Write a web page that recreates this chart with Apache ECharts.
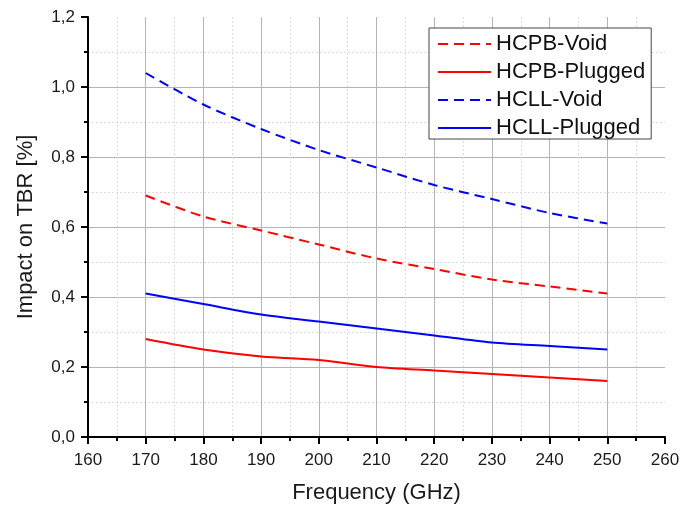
<!DOCTYPE html>
<html>
<head>
<meta charset="utf-8">
<script src="https://cdn.jsdelivr.net/npm/echarts@6/dist/echarts.min.js"></script>
<style>
  html, body { margin: 0; padding: 0; background: #fff; }
  #chart { width: 694px; height: 506px; }
</style>
</head>
<body>
<div id="chart"></div>
<script>
// frequency (GHz)
var freq = [170, 180, 190, 200, 210, 220, 230, 240, 250];
// impact on TBR [%]
var hcpbVoid = [0.69, 0.63, 0.59, 0.55, 0.51, 0.48, 0.45, 0.43, 0.41];
var hcpbPlugged = [0.28, 0.25, 0.23, 0.22, 0.20, 0.19, 0.18, 0.17, 0.16];
var hcllVoid = [1.04, 0.95, 0.88, 0.82, 0.77, 0.72, 0.68, 0.64, 0.61];
var hcllPlugged = [0.41, 0.38, 0.35, 0.33, 0.31, 0.29, 0.27, 0.26, 0.25];

function pairs(ys) {
  return freq.map(function (f, i) { return [f, ys[i]]; });
}

var font = 'Liberation Sans, Arial, sans-serif';
var chart = echarts.init(document.getElementById('chart'), null, { renderer: 'canvas' });

function axisCommon() {
  return {
    axisLine: { show: true, onZero: false, lineStyle: { color: '#000', width: 2 } },
    axisTick: { show: true, inside: false, length: 7, lineStyle: { color: '#000', width: 2 } },
    minorTick: { show: true, splitNumber: 2, length: 4, lineStyle: { color: '#000', width: 2 } },
    splitLine: { show: true, showMaxLine: false, showMinLine: false, lineStyle: { color: '#b4b4b4', width: 1 } },
    minorSplitLine: { show: true, lineStyle: { color: '#dcdcdc', width: 1, type: [2, 2] } },
    axisLabel: { color: '#1a1a1a', fontSize: 17, fontFamily: font },
    nameTextStyle: { color: '#1a1a1a', fontSize: 22, fontFamily: font }
  };
}

var xAxis = axisCommon();
xAxis.type = 'value';
xAxis.min = 160;
xAxis.max = 260;
xAxis.interval = 10;
xAxis.name = 'Frequency (GHz)';
xAxis.nameLocation = 'middle';
xAxis.nameGap = 45;
xAxis.axisLabel.margin = 15;

var yAxis = axisCommon();
yAxis.type = 'value';
yAxis.min = 0;
yAxis.max = 1.2;
yAxis.interval = 0.2;
yAxis.name = 'Impact on TBR [%]';
yAxis.nameLocation = 'middle';
yAxis.nameGap = 51;
yAxis.axisLabel.margin = 13;
yAxis.axisLabel.formatter = function (v) { return v.toFixed(1).replace('.', ','); };

function line(name, data, color, dashed) {
  return {
    name: name,
    type: 'line',
    data: pairs(data),
    smooth: 0.3,
    symbol: 'none',
    lineStyle: { color: color, width: 2, type: dashed ? [10, 6] : 'solid' },
    itemStyle: { color: color }
  };
}

chart.setOption({
  animation: false,
  backgroundColor: '#fff',
  grid: { left: 88, right: 29, top: 17, bottom: 69, outerBoundsMode: 'none' },
  legend: {
    orient: 'vertical',
    left: 429,
    top: 28,
    padding: [5, 6, 0, 8],
    itemGap: 6,
    itemWidth: 53,
    itemHeight: 12,
    borderColor: '#444',
    borderWidth: 1,
    backgroundColor: '#fff',
    itemStyle: { opacity: 0 },
    textStyle: { color: '#111', fontSize: 22, fontFamily: font },
    data: ['HCPB-Void', 'HCPB-Plugged', 'HCLL-Void', 'HCLL-Plugged']
  },
  xAxis: xAxis,
  yAxis: yAxis,
  series: [
    line('HCPB-Void', hcpbVoid, '#ff0000', true),
    line('HCPB-Plugged', hcpbPlugged, '#ff0000', false),
    line('HCLL-Void', hcllVoid, '#0000ff', true),
    line('HCLL-Plugged', hcllPlugged, '#0000ff', false)
  ]
});
</script>
</body>
</html>
